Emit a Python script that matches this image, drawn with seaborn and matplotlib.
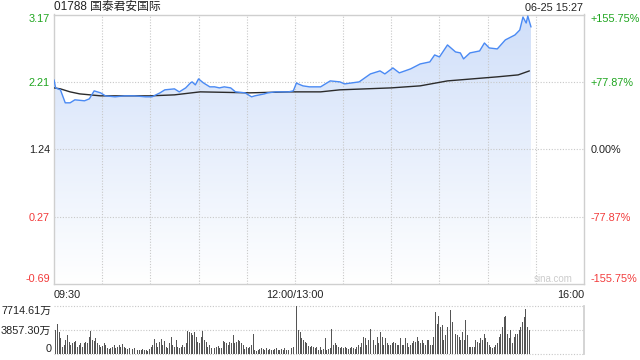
import numpy as np
import pandas as pd
import matplotlib
matplotlib.use("Agg")
import matplotlib.pyplot as plt
import seaborn as sns

# ---------------- data ----------------
title_text = "01788 国泰君安国际"
stamp_text = "06-25 15:27"
prev_close = 1.24
y_ticks = [-0.69, 0.27, 1.24, 2.21, 3.17]
y_tick_labels = ["-0.69", "0.27", "1.24", "2.21", "3.17"]
pct_labels = ["-155.75%", "-77.87%", "0.00%", "+77.87%", "+155.75%"]
x_tick_pos = [0, 150, 330]
x_tick_labels = ["09:30", "12:00/13:00", "16:00"]
vol_ticks = [0, 3857.30, 7714.61]
vol_tick_labels = ["0", "3857.30万", "7714.61万"]

# minutes since 09:30 (lunch break removed) and price
price_min = [0, 1, 4, 7, 10, 13, 19, 22, 25, 29, 32, 38, 44, 50, 57, 61, 66, 69, 75,
             78, 82, 85, 86, 88, 90, 93, 97, 100, 103, 106, 110, 113, 119, 123, 125,
             131, 133, 138, 146, 149, 151, 152, 155, 159, 166, 172, 178, 181, 190, 197,
             203, 206, 211, 215, 222, 228, 234, 237, 240, 245, 250, 253, 255, 259, 265,
             268, 271, 276, 281, 287, 290, 292, 294, 295, 297]
price_val = [2.234, 2.119, 2.091, 1.905, 1.905, 1.948, 1.934, 1.962, 2.076, 2.048, 2.005,
             1.991, 2.005, 2.005, 1.991, 1.991, 2.048, 2.091, 2.105, 2.062, 2.119, 2.191,
             2.205, 2.162, 2.248, 2.191, 2.134, 2.134, 2.119, 2.134, 2.119, 2.062, 2.048,
             1.991, 2.005, 2.033, 2.048, 2.062, 2.062, 2.076, 2.191, 2.176, 2.148, 2.134,
             2.134, 2.219, 2.205, 2.176, 2.205, 2.319, 2.362, 2.319, 2.405, 2.334, 2.391,
             2.462, 2.491, 2.591, 2.562, 2.734, 2.634, 2.620, 2.534, 2.620, 2.648, 2.762,
             2.691, 2.677, 2.806, 2.877, 2.948, 3.134, 3.048, 3.148, 2.991]

avg_min = [0, 4, 10, 16, 29, 60, 75, 91, 122, 147, 166, 178, 210, 228, 245, 276, 289, 296]
avg_val = [2.119, 2.105, 2.062, 2.033, 2.005, 2.005, 2.019, 2.062, 2.048, 2.062, 2.062,
           2.091, 2.119, 2.148, 2.219, 2.277, 2.305, 2.362]

# per-minute volume (万)
volume = [3910, 3910, 4850, 3540, 2600,
          1200, 1460, 2240, 3020, 1980, 1460, 1720, 1980, 2100, 1200,
          1460, 1830, 1200, 1720, 1980, 1720, 2760,
          3700, 2240, 2140, 2500, 1720, 1460,
          1200, 1300, 1720, 1460, 940, 780, 940, 1200, 1460, 940, 1200,
          1460, 1100, 1560, 1100, 940, 780, 940, 680, 780,
          940, 780, 680, 570, 680, 830, 570, 680, 520, 780, 1200, 1460,
          2400, 1720, 1200, 2000, 2350, 1460, 2140, 1200,
          940, 1720, 2760, 1460, 1200, 2240, 1100, 940, 1100, 1460, 1200, 1720,
          3700, 3550, 3390, 3020, 3550, 2760, 1980, 1720, 2760, 3700,
          2240, 1980, 1200, 1460, 940, 1100, 940, 1200, 1300, 940, 940,
          2140, 1980, 1720, 1460, 1980, 1720, 3020, 1720, 1980, 2240, 2140, 1720, 1460,
          780, 1200, 940, 1100, 1460, 3280,
          680, 420, 680, 780, 940, 780, 680, 940, 680, 780, 570, 680, 780, 940, 680,
          570, 780, 680, 940, 570, 680, 780, 940, 1200, 680,
          7715, 3910, 3540, 2500, 2240, 1980, 1720, 1300, 1200, 1300, 1200, 940, 1200, 680,
          1200, 680, 780, 2500, 680, 780, 940, 4070,
          1460, 1720, 1460, 1200, 940, 1200, 940, 1100, 940, 780, 940, 1100, 940, 780,
          1100, 1460, 1200, 1720,
          2760, 2500, 1460, 2240, 4070, 3390, 2240, 1460, 2760, 1720, 3540, 2760, 1460,
          2500, 1720,
          1460, 1460, 1720, 1980, 1720, 1460, 1460, 2500, 1460, 1460, 2500, 1720,
          1200, 1460, 1720, 2140, 1980, 2760, 2140, 1720, 2240, 1720, 1460, 2240, 2240,
          1460, 1460, 2760,
          6670, 4850, 6150, 4330, 4590, 2240, 3020, 4330, 3020, 7040, 5110, 5470, 3280,
          3020, 2760, 2240, 3540, 2240, 5470, 3020,
          1200, 1200, 1200, 1200, 2240, 1980, 1720, 2500, 2240, 3280, 2500, 1980, 1460,
          1200, 940, 1200, 1460, 1720, 2760, 3280,
          4330, 5890, 6150, 3280, 2500, 3805, 1720, 2760, 3280, 3280, 3805, 4330, 5110,
          5890, 7190, 4330, 3910, 1720]

# ---------------- style ----------------
sns.set_theme(style="white")
plt.rcParams["font.family"] = ["Liberation Sans", "Noto Sans CJK SC", "DejaVu Sans"]

GREEN = "#1ea51e"
RED = "#f23a3a"
DARK = "#222222"
GRID = "#c8c8c8"
FRAME = "#cfcfcf"
FS = 7.8

fig = plt.figure(figsize=(6.4, 3.6), dpi=100)
ax = fig.add_axes([54 / 640, 1 - 284 / 360, 530 / 640, 269.5 / 360])
axv = fig.add_axes([54 / 640, 1 - 354 / 360, 530 / 640, 48 / 360])

ymin, ymax = y_ticks[0], y_ticks[-1]
ax.set_xlim(0, 330)
ax.set_ylim(ymin, ymax)

# gradient fill under price
pdf = pd.DataFrame({"minute": price_min, "price": price_val})
poly = ax.fill_between(pdf["minute"], pdf["price"], ymin, color="none", lw=0)
grad = np.linspace(0, 1, 256).reshape(-1, 1)
top = np.array([208, 223, 249]) / 255
bot = np.array([255, 255, 255]) / 255
img = (bot[None, None, :] * (1 - grad[..., None]) + top[None, None, :] * grad[..., None])
im = ax.imshow(img, extent=[0, 330, ymin, ymax], origin="lower", aspect="auto", zorder=1)
clip = poly.get_paths()[0]
im.set_clip_path(clip, transform=ax.transData)

# grid
for t in y_ticks[1:-1]:
    ax.axhline(t, color=GRID, lw=0.8, ls=(0, (1, 1.5)), zorder=2)
for m in range(30, 330, 30):
    ax.axvline(m, color=GRID, lw=0.8, ls=(0, (1, 1.5)), zorder=2)

sns.lineplot(data=pdf, x="minute", y="price", ax=ax, color="#4a8af4", lw=1.0, zorder=4)
adf = pd.DataFrame({"minute": avg_min, "avg": avg_val})
sns.lineplot(data=adf, x="minute", y="avg", ax=ax, color="#2b2b2b", lw=1.0, zorder=3)

for s in ax.spines.values():
    s.set_color(FRAME)
    s.set_linewidth(1.0)

ax.set_xlabel("")
ax.set_ylabel("")
ax.set_yticks(y_ticks)
ax.set_yticklabels(y_tick_labels)
ax.tick_params(axis="y", length=0, pad=3, labelsize=FS)
ycolors = [RED, RED, DARK, GREEN, GREEN]
for lab, c in zip(ax.get_yticklabels(), ycolors):
    lab.set_color(c)
labs = ax.get_yticklabels()
labs[0].set_va("bottom")
labs[-1].set_va("top")

ax.set_xticks(x_tick_pos)
ax.set_xticklabels(x_tick_labels)
ax.tick_params(axis="x", length=0, pad=4, labelsize=FS, labelcolor=DARK)
xl = ax.get_xticklabels()
xl[0].set_ha("left")
xl[-1].set_ha("right")

# right percent axis
ax2 = ax.twinx()
ax2.set_ylim(ymin, ymax)
ax2.set_yticks(y_ticks)
ax2.set_yticklabels(pct_labels)
ax2.tick_params(axis="y", length=0, pad=5, labelsize=FS)
for lab, c in zip(ax2.get_yticklabels(), ycolors):
    lab.set_color(c)
l2 = ax2.get_yticklabels()
l2[0].set_va("bottom")
l2[-1].set_va("top")
for s in ax2.spines.values():
    s.set_visible(False)
ax2.grid(False)

# title & time stamp
fig.text(54 / 640, 1 - 7 / 360, title_text, ha="left", va="center", fontsize=8.5, color=DARK)
fig.text(583 / 640, 1 - 8 / 360, stamp_text, ha="right", va="center", fontsize=FS, color=DARK)
fig.text(573 / 640, 1 - 279 / 360, "sina.com", ha="right", va="center", fontsize=7, color="#cccccc")

# ---------------- volume ----------------
vx = np.arange(len(volume)) * (297 / (len(volume) - 1))
axv.bar(vx, volume, width=0.6, color="#555555", linewidth=0, align="center")
axv.set_xlim(0, 330)
axv.set_ylim(0, vol_ticks[-1])
for t in vol_ticks:
    axv.axhline(t, color=GRID, lw=0.8, ls=(0, (1, 1.5)), zorder=0, clip_on=False)
for k, s in axv.spines.items():
    s.set_visible(k == "right")
axv.spines["right"].set_color(FRAME)
axv.set_xticks([])
axv.set_yticks(vol_ticks)
axv.set_yticklabels(vol_tick_labels)
axv.tick_params(axis="y", length=0, pad=2, labelsize=FS, labelcolor=DARK)
vl = axv.get_yticklabels()
vl[0].set_va("bottom")
vl[-1].set_va("top")
axv.grid(False)
axv.set_facecolor("none")

fig.savefig("out.png", dpi=100)
